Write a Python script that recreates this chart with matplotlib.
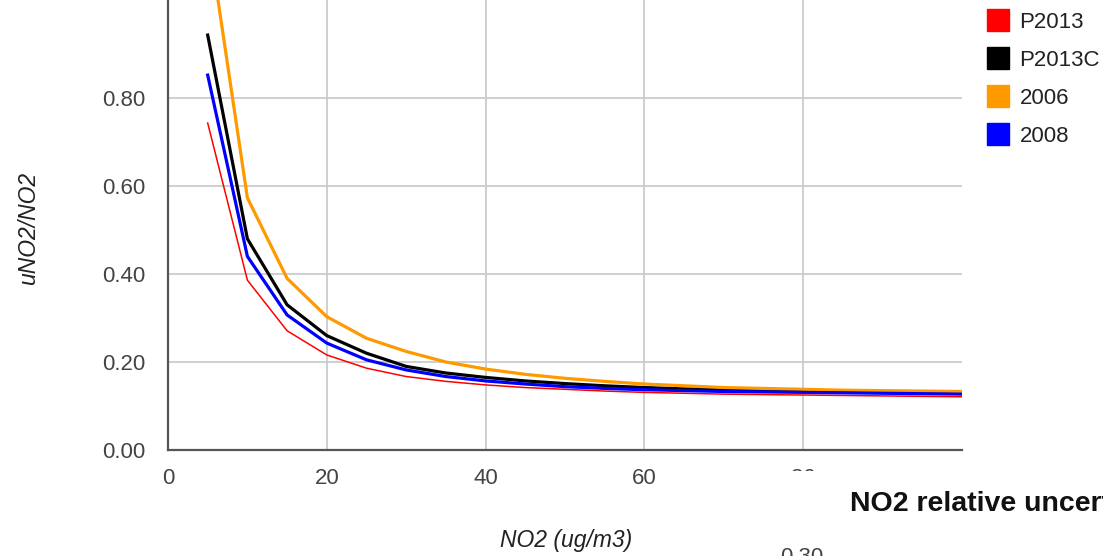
import matplotlib.pyplot as plt
from matplotlib.lines import Line2D
from matplotlib.patches import Rectangle

plt.rcParams['font.family'] = ['Liberation Sans', 'DejaVu Sans']

# NO2 concentration (ug/m3)
no2 = [5, 10, 15, 20, 25, 30, 35, 40, 45, 50, 55, 60, 65, 70, 75, 80, 85, 90, 95, 100]

# relative uncertainty uNO2/NO2 per method
p2013 = [0.743, 0.386, 0.271, 0.216, 0.186, 0.167, 0.156, 0.148, 0.142, 0.138,
         0.134, 0.131, 0.129, 0.127, 0.126, 0.125, 0.124, 0.123, 0.122, 0.121]
p2013c = [0.943, 0.480, 0.330, 0.260, 0.220, 0.190, 0.175, 0.165, 0.157, 0.151,
          0.146, 0.142, 0.139, 0.137, 0.135, 0.133, 0.132, 0.131, 0.130, 0.129]
y2006 = [1.180, 0.573, 0.390, 0.303, 0.254, 0.224, 0.200, 0.184, 0.172, 0.163,
         0.156, 0.150, 0.146, 0.142, 0.140, 0.138, 0.136, 0.135, 0.134, 0.133]
y2008 = [0.852, 0.440, 0.307, 0.243, 0.205, 0.182, 0.167, 0.157, 0.150, 0.144,
         0.140, 0.137, 0.135, 0.133, 0.132, 0.131, 0.130, 0.129, 0.128, 0.127]

series = [('P2013', p2013, '#ff0000', 1.1),
          ('P2013C', p2013c, '#000000', 2.3),
          ('2006', y2006, '#ff9900', 2.3),
          ('2008', y2008, '#0000ff', 2.3)]

xticks = [0, 20, 40, 60, 80]
yticks = [0.0, 0.2, 0.4, 0.6, 0.8]

fig = plt.figure(figsize=(11.03, 5.56), dpi=100)
ax = fig.add_axes([0.1523, 0.1906, 0.7199, 0.8094])

for name, vals, col, lw in series:
    ax.plot(no2, vals, color=col, lw=lw, label=name)

ax.set_xlim(0, 100)
ax.set_ylim(0, 1.0227)
ax.set_xticks(xticks)
ax.set_yticks(yticks)
ax.set_yticklabels(['%.2f' % v for v in yticks])
ax.grid(True, color='#cccccc', lw=1.3)
ax.set_axisbelow(True)
ax.tick_params(length=0, labelsize=16, colors='#444444')
ax.tick_params(axis='y', pad=16)
ax.tick_params(axis='x', pad=13)
for s in ['top', 'right']:
    ax.spines[s].set_visible(False)
for s in ['left', 'bottom']:
    ax.spines[s].set_color('#555555')
    ax.spines[s].set_linewidth(1.6)

ax.set_xlabel('NO2 (ug/m3)', fontsize=16.5, style='italic', color='#222222', va='center')
ax.xaxis.set_label_coords(0.501, -0.2)
ax.set_ylabel('uNO2/NO2', fontsize=16.5, style='italic', color='#222222', va='center')
ax.yaxis.set_label_coords(-0.176, 0.493)

handles = [Line2D([], [], marker='s', ls='none', markersize=16, color=c) for _, _, c, _ in series]
fig.legend(handles, [s[0] for s in series], loc='upper left', bbox_to_anchor=(0.879, 1.006),
           frameon=False, fontsize=16, handletextpad=0.35, labelspacing=0.76,
           labelcolor='#222222', handlelength=1.2, borderpad=0.2)

# piece of the next chart overlapping the bottom right
fig.patches.append(Rectangle((0.685, 0), 0.4, 0.152, transform=fig.transFigure,
                             facecolor='white', edgecolor='none', zorder=5))
fig.text(0.771, 0.0935, 'NO2 relative uncertainty', fontsize=20.5, fontweight='bold',
         color='#111111', va='center', zorder=6)
fig.text(0.707, -0.002, '0.30', fontsize=16, color='#444444', va='center', zorder=6)

fig.savefig('out.png', dpi=100)
